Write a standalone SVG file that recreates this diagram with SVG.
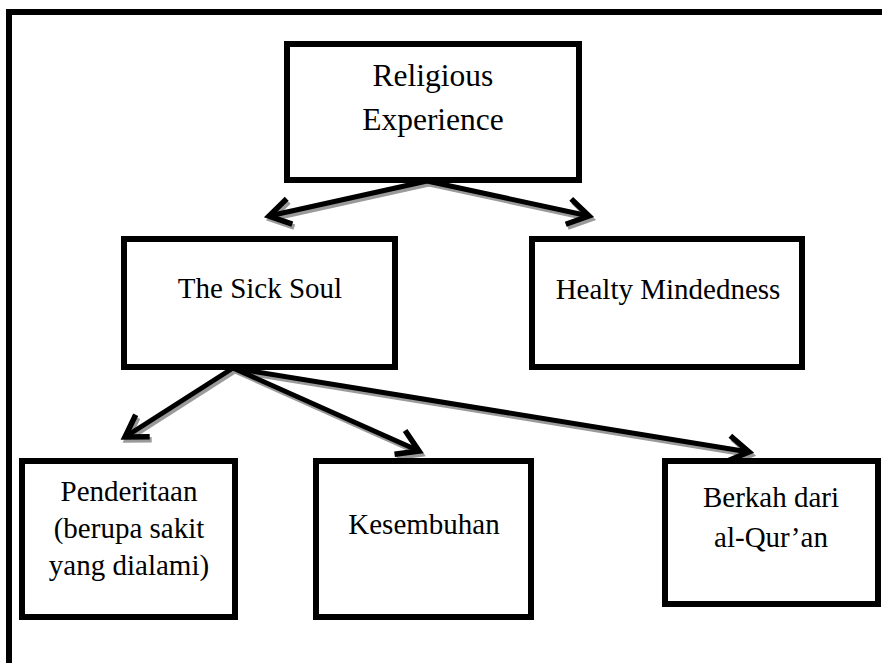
<svg xmlns="http://www.w3.org/2000/svg" width="882" height="663" viewBox="0 0 882 663">
<style>
.box{fill:#fff;stroke:#000;stroke-width:6}
.t{font-family:"Liberation Serif","Times New Roman",serif;font-size:29px;fill:#000;text-anchor:middle}
.big{font-size:31.5px}
.ln{fill:none;stroke:#000;stroke-width:5;marker-end:url(#ah)}
.sh{fill:none;stroke:#9a9a9a;stroke-width:5;marker-end:url(#ahs)}
</style>
<defs>
<marker id="ah" markerUnits="userSpaceOnUse" viewBox="-30 -20 40 40" markerWidth="40" markerHeight="40" refX="0" refY="0" orient="auto" overflow="visible">
<path d="M-21,-13 L0,0 L-21,13" fill="none" stroke="#000" stroke-width="5.5" stroke-linejoin="miter"/>
</marker>
<marker id="ahs" markerUnits="userSpaceOnUse" viewBox="-30 -20 40 40" markerWidth="40" markerHeight="40" refX="0" refY="0" orient="auto" overflow="visible">
<path d="M-21,-13 L0,0 L-21,13" fill="none" stroke="#9a9a9a" stroke-width="5.5" stroke-linejoin="miter"/>
</marker>
</defs>
<rect width="882" height="663" fill="#fff"/>
<path d="M9,663 V12 H882" fill="none" stroke="#000" stroke-width="6"/>
<g id="connectors">
<g transform="translate(2,3)">
<path class="sh" d="M427,181 L269,216"/>
<path class="sh" d="M427,181 L589,216"/>
<path class="sh" d="M233,368 L125,437"/>
<path class="sh" d="M233,368 L419,451"/>
<path class="sh" d="M233,368 L749,452"/>
</g>
<path class="ln" d="M427,181 L269,216"/>
<path class="ln" d="M427,181 L589,216"/>
<path class="ln" d="M233,368 L125,437"/>
<path class="ln" d="M233,368 L419,451"/>
<path class="ln" d="M233,368 L749,452"/>
</g>
<g id="religious">
<rect class="box" x="287" y="44" width="292" height="136"/>
<text class="t big" x="433" y="86">Religious</text>
<text class="t big" x="433" y="130">Experience</text>
</g>
<g id="sick">
<rect class="box" x="124" y="239" width="271" height="128"/>
<text class="t" x="260" y="298">The Sick Soul</text>
</g>
<g id="healty">
<rect class="box" x="532" y="239" width="270" height="128"/>
<text class="t" x="668" y="299">Healty Mindedness</text>
</g>
<g id="penderitaan">
<rect class="box" x="22" y="461" width="213" height="156"/>
<text class="t" x="129" y="501">Penderitaan</text>
<text class="t" x="129" y="538">(berupa sakit</text>
<text class="t" x="129" y="575">yang dialami)</text>
</g>
<g id="kesembuhan">
<rect class="box" x="316" y="461" width="215" height="156"/>
<text class="t" x="424" y="534">Kesembuhan</text>
</g>
<g id="berkah">
<rect class="box" x="665" y="461" width="213" height="143"/>
<text class="t" x="771" y="507">Berkah dari</text>
<text class="t" x="771" y="547">al-Qur’an</text>
</g>
</svg>
